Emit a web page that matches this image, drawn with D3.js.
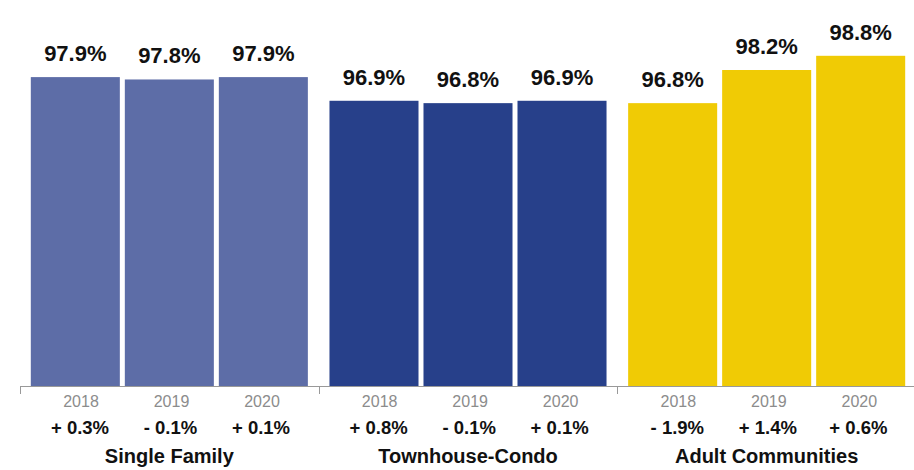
<!DOCTYPE html>
<html>
<head>
<meta charset="utf-8">
<script src="https://cdn.jsdelivr.net/npm/d3@7"></script>
<style>
  html, body { margin: 0; padding: 0; background: #fff; }
  svg { display: block; font-family: "Liberation Sans", Arial, Helvetica, sans-serif; }
</style>
</head>
<body>
<svg id="chart" width="914" height="470"></svg>
<script>
const categories = ["Single Family", "Townhouse-Condo", "Adult Communities"];
const years = ["2018", "2019", "2020"];
const singleFamily = [97.9, 97.8, 97.9];
const townhouseCondo = [96.9, 96.8, 96.9];
const adultCommunities = [96.8, 98.2, 98.8];
const singleFamilyChange = ["+ 0.3%", "- 0.1%", "+ 0.1%"];
const townhouseCondoChange = ["+ 0.8%", "- 0.1%", "+ 0.1%"];
const adultCommunitiesChange = ["- 1.9%", "+ 1.4%", "+ 0.6%"];
const colors = ["#5D6DA7", "#27408A", "#F0CB05"];

const seriesValues = [singleFamily, townhouseCondo, adultCommunities];
const seriesChanges = [singleFamilyChange, townhouseCondoChange, adultCommunitiesChange];

const svg = d3.select("#chart");
const baseY = 386;

const x0 = d3.scaleBand().domain(categories).range([20, 916]).paddingInner(0).paddingOuter(0);
const x1 = d3.scaleBand().domain(years).range([0, x0.bandwidth()]).paddingInner(0.053).paddingOuter(0.115);
const xl = d3.scalePoint().domain(years).range([61, 242]);
const y = d3.scaleLinear().domain([84.85, 100]).range([baseY, baseY - 15.15 * 23.67]);

const groups = svg.selectAll("g.grp")
  .data(categories.map((c, i) => ({ cat: c, vals: seriesValues[i], chg: seriesChanges[i], color: colors[i] })))
  .join("g")
  .attr("class", "grp")
  .attr("transform", d => `translate(${x0(d.cat)},0)`);

groups.selectAll("rect")
  .data(d => d.vals.map((v, j) => ({ year: years[j], v, color: d.color })))
  .join("rect")
  .attr("x", d => x1(d.year))
  .attr("width", x1.bandwidth())
  .attr("y", d => y(d.v))
  .attr("height", d => baseY - y(d.v))
  .attr("fill", d => d.color);

groups.selectAll("text.val")
  .data(d => d.vals.map((v, j) => ({ year: years[j], v })))
  .join("text")
  .attr("class", "val")
  .attr("x", d => x1(d.year) + x1.bandwidth() / 2)
  .attr("y", d => y(d.v) - 16)
  .attr("text-anchor", "middle")
  .attr("font-size", 22)
  .attr("font-weight", "bold")
  .attr("fill", "#111")
  .text(d => d.v.toFixed(1) + "%");

// axis
const axis = svg.append("g").attr("transform", `translate(0,${baseY})`)
  .call(d3.axisBottom(x0).tickSize(0).tickFormat(""));
axis.select(".domain").remove();
axis.append("line").attr("x1", 20).attr("x2", 916).attr("y1", 0.5).attr("y2", 0.5)
  .attr("stroke", "#999").attr("stroke-width", 1);
const bounds = [20].concat(categories.map(c => x0(c) + x0.bandwidth()));
axis.selectAll("line.tk").data(bounds).join("line")
  .attr("class", "tk")
  .attr("x1", d => Math.round(d) + 0.5).attr("x2", d => Math.round(d) + 0.5)
  .attr("y1", 0).attr("y2", 8)
  .attr("stroke", "#999").attr("stroke-width", 1);

groups.selectAll("text.yr")
  .data(years)
  .join("text")
  .attr("class", "yr")
  .attr("x", d => xl(d))
  .attr("y", 407)
  .attr("text-anchor", "middle")
  .attr("font-size", 16)
  .attr("fill", "#8c8c8c")
  .text(d => d);

groups.selectAll("text.chg")
  .data(d => d.chg.map((c, j) => ({ year: years[j], c })))
  .join("text")
  .attr("class", "chg")
  .attr("x", d => xl(d.year) - 1)
  .attr("y", 434)
  .attr("text-anchor", "middle")
  .attr("font-size", 18.5)
  .attr("font-weight", "bold")
  .attr("fill", "#111")
  .text(d => d.c);

groups.append("text")
  .attr("x", x0.bandwidth() / 2)
  .attr("y", 463)
  .attr("text-anchor", "middle")
  .attr("font-size", 20)
  .attr("font-weight", "bold")
  .attr("fill", "#111")
  .text(d => d.cat);
</script>
</body>
</html>
